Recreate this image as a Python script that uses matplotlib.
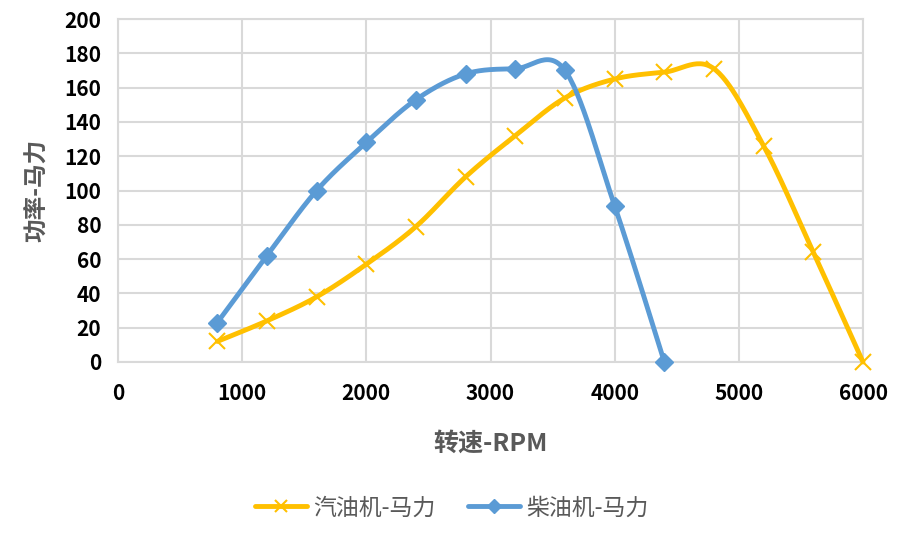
import numpy as np
import matplotlib.pyplot as plt

plt.rcParams['font.family'] = ['Noto Sans CJK SC', 'DejaVu Sans']

# 数据
rpm_gas = [800, 1200, 1600, 2000, 2400, 2800, 3200, 3600, 4000, 4400, 4800, 5200, 5600, 6000]
hp_gas = [12, 24, 38, 57, 79, 108, 132, 154, 165, 169, 171, 126, 64, 0]
rpm_diesel = [800, 1200, 1600, 2000, 2400, 2800, 3200, 3600, 4000, 4400]
hp_diesel = [23, 62, 100, 128, 153, 168, 171, 170, 91, 0]

xticks = [0, 1000, 2000, 3000, 4000, 5000, 6000]
yticks = list(range(0, 201, 20))


def suavizar(x, y, n=30):
    # curva tipo Excel: Bezier con puntos de control Catmull-Rom
    x = np.asarray(x, float)
    y = np.asarray(y, float)
    px = np.concatenate([[x[0]], x, [x[-1]]])
    py = np.concatenate([[y[0]], y, [y[-1]]])
    t = np.linspace(0, 1, n)
    xs, ys = [], []
    for i in range(1, len(px) - 2):
        p0 = np.array([px[i], py[i]])
        p3 = np.array([px[i + 1], py[i + 1]])
        c1 = p0 + (np.array([px[i + 1], py[i + 1]]) - np.array([px[i - 1], py[i - 1]])) / 6
        c2 = p3 - (np.array([px[i + 2], py[i + 2]]) - np.array([px[i], py[i]])) / 6
        b = ((1 - t) ** 3)[:, None] * p0 + (3 * (1 - t) ** 2 * t)[:, None] * c1 \
            + (3 * (1 - t) * t ** 2)[:, None] * c2 + (t ** 3)[:, None] * p3
        xs.extend(b[:, 0])
        ys.extend(b[:, 1])
    return xs, ys


amarillo = '#FFC000'
azul = '#5B9BD5'
gris = '#595959'

fig = plt.figure(figsize=(9.03, 5.33), dpi=100)
ax = fig.add_axes([118 / 903, 1 - 362 / 533, (863 - 118) / 903, (362 - 19) / 533])

gx, gy = suavizar(rpm_gas, hp_gas)
ax.plot(gx, gy, color=amarillo, lw=3.5, solid_capstyle='round', zorder=3, clip_on=False)
ax.plot(rpm_gas, hp_gas, ls='none', marker='x', ms=11, mew=1.5, color=amarillo, zorder=4, clip_on=False)
dx, dy = suavizar(rpm_diesel, hp_diesel)
ax.plot(dx, dy, color=azul, lw=3.5, solid_capstyle='round', zorder=3, clip_on=False)
ax.plot(rpm_diesel, hp_diesel, ls='none', marker='D', ms=9, color=azul, zorder=4, clip_on=False)

ax.set_xlim(0, 6000)
ax.set_ylim(0, 200)
ax.set_xticks(xticks)
ax.set_yticks(yticks)
ax.tick_params(length=0, labelsize=15)
ax.tick_params(axis='x', pad=15)
ax.tick_params(axis='y', pad=12)
for lab in ax.get_xticklabels() + ax.get_yticklabels():
    lab.set_fontweight('bold')
ax.grid(True, color='#D9D9D9', lw=1.5)
ax.set_axisbelow(True)
for s in ax.spines.values():
    s.set_color('#D9D9D9')
    s.set_linewidth(1.5)

ax.set_xlabel('转速-RPM', fontsize=18, fontweight='bold', color=gris, labelpad=20)
ax.set_ylabel('功率-马力', fontsize=17, fontweight='bold', color=gris, labelpad=12)

h1, = ax.plot([], [], color=amarillo, lw=3.5, marker='x', ms=8, mew=1.5, solid_capstyle='round')
h2, = ax.plot([], [], color=azul, lw=3.5, marker='D', ms=7, solid_capstyle='round')
leg = fig.legend([h1, h2], ['汽油机-马力', '柴油机-马力'], loc='center', bbox_to_anchor=(0.5, 1 - 508 / 533),
                 ncol=2, frameon=False, fontsize=16.5, handlelength=2.3, handletextpad=0.25, columnspacing=1.4)
for t in leg.get_texts():
    t.set_color(gris)

fig.savefig('out.png', dpi=100)
